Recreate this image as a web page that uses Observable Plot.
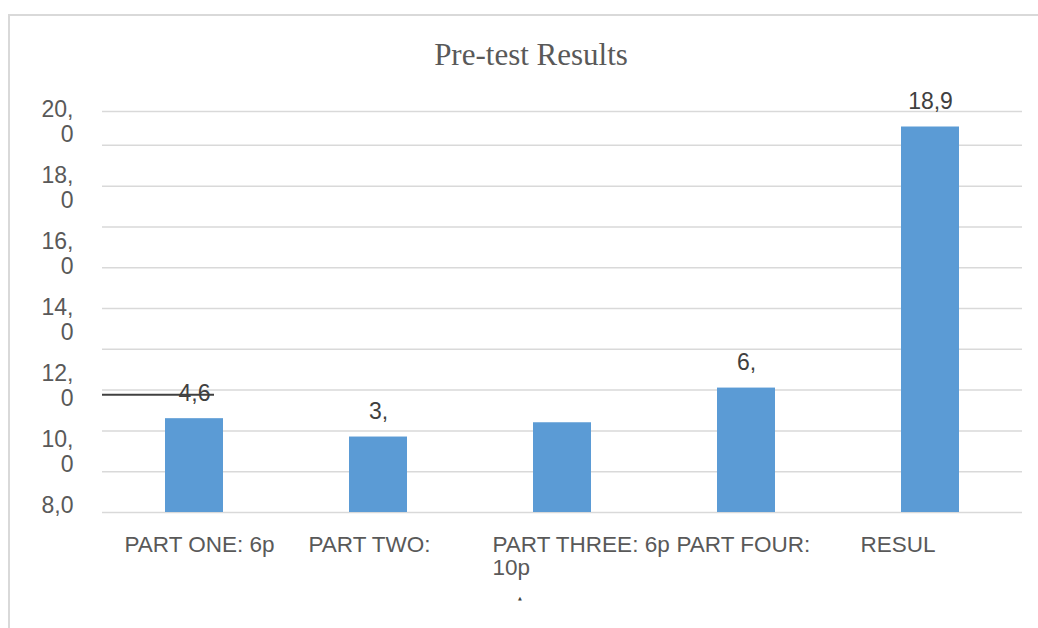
<!DOCTYPE html>
<html>
<head>
<meta charset="utf-8">
<script src="https://cdn.jsdelivr.net/npm/d3@7"></script>
<script src="https://cdn.jsdelivr.net/npm/@observablehq/plot@0.6"></script>
<style>
  html, body { margin: 0; padding: 0; background: #fff; }
  #wrap { position: relative; width: 1038px; height: 628px; overflow: hidden; background: #fff; }
  #border { position: absolute; left: 8px; top: 14px; width: 1200px; height: 800px; border: 2px solid #d9d9d9;
            box-sizing: border-box; background: transparent; z-index: 5; pointer-events: none; }
  #head { position: relative; height: 88px; }
  #title { position: absolute; top: 39px; left: 0; width: 1062px; text-align: center;
           font-family: "Liberation Serif", "Times New Roman", serif; font-size: 31px; line-height: 31px; color: #595959; }
  #chart { position: relative; }
  #mark { position: absolute; left: 518px; top: 595px; font-family: "DejaVu Sans", sans-serif; font-size: 5px; color: #404040; z-index: 6; }
</style>
</head>
<body>
<div id="wrap">
  <div id="head"><div id="title">Pre-test Results</div></div>
  <div id="chart"></div>
  <div id="border"></div>
  <div id="mark">▲</div>
</div>
<script>
// ---- data ----
const categories = ["PART ONE", "PART TWO", "PART THREE", "PART FOUR", "RESULT"];
const values = [4.6, 3.7, 4.4, 6.1, 18.9];
const valueLabels = ["4,6", "3,", "", "6,", "18,9"];
const xTickLabels = ["PART ONE: 6p", "PART TWO:", "PART THREE: 6p\n10p", "PART FOUR:", "RESUL"];
const gridValues = [0, 2, 4, 6, 8, 10, 12, 14, 16, 18];
const yTop = 19.66;
const yTickValues = [20, 18, 16, 14, 12, 10, 8];
const yTickLabels = ["20,\n0", "18,\n0", "16,\n0", "14,\n0", "12,\n0", "10,\n0", "8,0"];
const strikeLevel = 5.77;

// the printed axis labels follow their own (misaligned) scale
const labelAxis = d3.scaleLinear([8, 20], [0.44, 19.85]);

const table = categories.map((c, i) => ({
  category: c, value: values[i], label: valueLabels[i], tick: xTickLabels[i]
}));

const chart = Plot.plot({
  width: 1038,
  height: 540,
  marginTop: 23,
  marginBottom: 116,
  marginLeft: 102,
  marginRight: 16,
  style: { fontFamily: "'Liberation Sans', Arial, sans-serif", background: "white", overflow: "visible" },
  x: { domain: categories, paddingInner: 0.685, paddingOuter: 0.342, axis: null },
  y: { domain: [0, yTop], axis: null },
  marks: [
    Plot.ruleY([...gridValues, yTop], { stroke: "#d9d9d9", strokeWidth: 1.5 }),
    Plot.barY(table, { x: "category", y: "value", fill: "#5b9bd5" }),
    Plot.ruleY([strikeLevel], { stroke: "#404040", strokeWidth: 2, insetRight: 808 }),
    Plot.text(table, { x: "category", y: "value", text: "label", dy: -25, fontSize: 23, fill: "#404040" }),
    Plot.text(table, { x: "category", text: "tick", frameAnchor: "bottom", textAnchor: "start",
                       lineAnchor: "top", dx: -70, dy: 23, fontSize: 22.5, lineHeight: 1.02, fill: "#595959" }),
    Plot.text(yTickValues, { y: (v) => labelAxis(v), text: (v, i) => yTickLabels[i], frameAnchor: "left",
                             textAnchor: "end", lineAnchor: "top", dx: -29, dy: -8, fontSize: 23,
                             lineHeight: 1.08, fill: "#595959" })
  ]
});
document.getElementById("chart").appendChild(chart);
</script>
</body>
</html>
